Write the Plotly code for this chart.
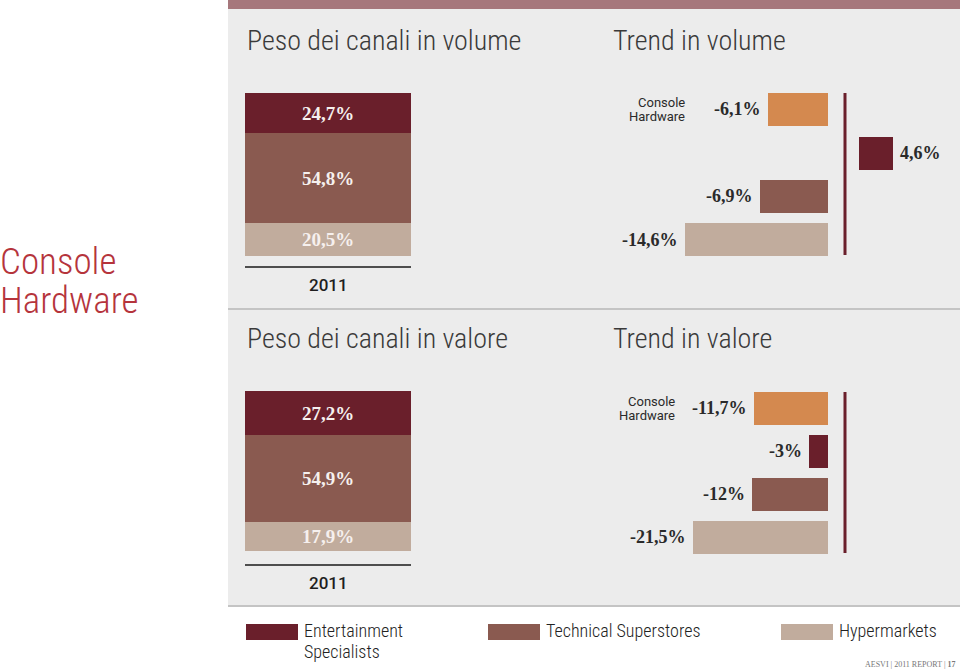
import plotly.graph_objects as go

# ---------------- data ----------------
channels = ["Entertainment Specialists", "Technical Superstores", "Hypermarkets"]
legend_lines = [["Entertainment", "Specialists"], ["Technical Superstores"], ["Hypermarkets"]]
share_volume = [24.7, 54.8, 20.5]
share_value = [27.2, 54.9, 17.9]
year_label = "2011"

trend_cats = ["Console Hardware", "Entertainment Specialists", "Technical Superstores", "Hypermarkets"]
trend_volume = [-6.1, 4.6, -6.9, -14.6]
trend_value = [-11.7, -3.0, -12.0, -21.5]

titles = {
    "share_volume": "Peso dei canali in volume",
    "trend_volume": "Trend in volume",
    "share_value": "Peso dei canali in valore",
    "trend_value": "Trend in valore",
}
section_label = ["Console", "Hardware"]
footer = "AESVI | 2011 REPORT | <b>17</b>"

# ---------------- styles ----------------
W, H = 960, 672
col_channel = {"Entertainment Specialists": "#6a1f2b",
               "Technical Superstores": "#8a5a50",
               "Hypermarkets": "#c1ac9d"}
col_total = "#d4894f"
trend_colors = [col_total] + [col_channel[c] for c in channels]
NARROW = "Roboto Condensed, Liberation Sans Narrow, Roboto, sans-serif"
SERIF = "Liberation Serif, DejaVu Serif, serif"
SANS = "Roboto, Liberation Sans, sans-serif"


def px(x):
    return x / W


def py(y):
    return 1 - y / H


def fmt(v):
    s = ("%.1f" % v).replace(".", ",")
    if s.endswith(",0"):
        s = s[:-2]
    return s + "%"


fig = go.Figure()
shapes = []
annotations = []

# background panel
shapes.append(dict(type="rect", xref="paper", yref="paper", x0=px(228), x1=1, y0=py(606), y1=1,
                   fillcolor="#ececec", line_width=0, layer="below"))
shapes.append(dict(type="rect", xref="paper", yref="paper", x0=px(228), x1=1, y0=py(9), y1=1,
                   fillcolor="#a6777c", line_width=0, layer="below"))
for yy in (309, 606):
    shapes.append(dict(type="line", xref="paper", yref="paper", x0=px(228), x1=1, y0=py(yy), y1=py(yy),
                       line=dict(color="#c4c4c4", width=2), layer="below"))

# big section label
for i, t in enumerate(section_label):
    annotations.append(dict(text=t, xref="paper", yref="paper", x=px(-2), y=py(262 + 38 * i),
                            xanchor="left", yanchor="middle", showarrow=False,
                            font=dict(family=NARROW, size=37, color="#b5343c", weight=300)))

sections = [
    dict(share=share_volume, trend=trend_volume, tshare=titles["share_volume"], ttrend=titles["trend_volume"],
         bar=(93, 256), dom=(87.8, 261.2), title_y=40, rule_y=267, year_y=285, axis=(93, 255),
         label_x=687),
    dict(share=share_value, trend=trend_value, tshare=titles["share_value"], ttrend=titles["trend_value"],
         bar=(391, 551), dom=(386.5, 558.5), title_y=338, rule_y=565, year_y=583, axis=(392, 553),
         label_x=677),
]

layout_axes = {}
neg_scale = [9.8, 6.3]   # px per percentage point
pos_scale = 7.4

for s_i, s in enumerate(sections):
    a_share = 1 + s_i
    a_neg = 3 + 2 * s_i
    a_pos = 4 + 2 * s_i

    for txt, tx in ((s["tshare"], 245), (s["ttrend"], 611)):
        annotations.append(dict(text=txt, xref="paper", yref="paper", x=px(tx), y=py(s["title_y"]),
                                xanchor="left", yanchor="middle", showarrow=False,
                                font=dict(family=NARROW, size=28, color="#3a3a3a", weight=300)))

    xs = "x" if a_share == 1 else "x%d" % a_share
    ys = "y" if a_share == 1 else "y%d" % a_share
    for ch, v in reversed(list(zip(channels, s["share"]))):
        fig.add_trace(go.Bar(x=[year_label], y=[v], width=1, marker=dict(color=col_channel[ch], line_width=0),
                             text=[fmt(v)], textposition="inside", insidetextanchor="middle",
                             textangle=0, constraintext="none",
                             textfont=dict(family=SERIF, size=19, color="#f6f0ee", weight="bold"),
                             xaxis=xs, yaxis=ys, showlegend=False, hoverinfo="skip"))
    kx = "xaxis" if a_share == 1 else "xaxis%d" % a_share
    ky = "yaxis" if a_share == 1 else "yaxis%d" % a_share
    layout_axes[kx] = dict(domain=[px(245), px(411)], range=[-0.5, 0.5], visible=False, type="category",
                           anchor=ys)
    layout_axes[ky] = dict(domain=[py(s["bar"][1]), py(s["bar"][0])], range=[0, 100], visible=False,
                           anchor=xs)

    shapes.append(dict(type="line", xref="paper", yref="paper", x0=px(245), x1=px(411),
                       y0=py(s["rule_y"]), y1=py(s["rule_y"]), line=dict(color="#1a1a1a", width=1.5)))
    annotations.append(dict(text=year_label, xref="paper", yref="paper", x=px(328), y=py(s["year_y"]),
                            xanchor="center", yanchor="middle", showarrow=False,
                            font=dict(family=SANS, size=17, color="#1e1e1e", weight=500)))

    neg = [v if v < 0 else None for v in s["trend"]]
    pos = [v if v > 0 else None for v in s["trend"]]
    xn, yn = "x%d" % a_neg, "y%d" % a_neg
    xp, yp = "x%d" % a_pos, "y%d" % a_pos
    fig.add_trace(go.Bar(y=trend_cats, x=neg, orientation="h", width=0.76,
                         marker=dict(color=trend_colors, line_width=0),
                         xaxis=xn, yaxis=yn, showlegend=False, hoverinfo="skip"))
    fig.add_trace(go.Bar(y=trend_cats, x=pos, orientation="h", width=0.76,
                         marker=dict(color=trend_colors, line_width=0),
                         xaxis=xp, yaxis=yp, showlegend=False, hoverinfo="skip"))
    neg_left, neg_right = 600, 828
    pos_left, pos_right = 859, 940
    ydom = [py(s["dom"][1]), py(s["dom"][0])]
    cat_axis = dict(type="category", categoryorder="array", categoryarray=trend_cats,
                    range=[3.5, -0.5], visible=False, domain=ydom)
    layout_axes["xaxis%d" % a_neg] = dict(domain=[px(neg_left), px(neg_right)],
                                          range=[-(neg_right - neg_left) / neg_scale[s_i], 0],
                                          visible=False, anchor=yn)
    layout_axes["yaxis%d" % a_neg] = dict(cat_axis, anchor=xn)
    layout_axes["xaxis%d" % a_pos] = dict(domain=[px(pos_left), px(pos_right)],
                                          range=[0, (pos_right - pos_left) / pos_scale],
                                          visible=False, anchor=yp)
    layout_axes["yaxis%d" % a_pos] = dict(cat_axis, anchor=xp)

    for cat, v in zip(trend_cats, s["trend"]):
        if v < 0:
            annotations.append(dict(text="<b>%s</b>" % fmt(v), x=v, y=cat, xref=xn, yref=yn,
                                    xanchor="right", yanchor="middle", xshift=-5, showarrow=False,
                                    font=dict(family=SERIF, size=18, color="#2a2a2a")))
        else:
            annotations.append(dict(text="<b>%s</b>" % fmt(v), x=v, y=cat, xref=xp, yref=yp,
                                    xanchor="left", yanchor="middle", xshift=5, showarrow=False,
                                    font=dict(family=SERIF, size=18, color="#2a2a2a")))

    for j, t in enumerate(section_label):
        annotations.append(dict(text=t, x=px(s["label_x"]), y=trend_cats[0], xref="paper", yref=yn,
                                xanchor="right", yanchor="middle", yshift=7 - 14 * j, showarrow=False,
                                font=dict(family=SANS, size=13, color="#2a2a2a")))

    shapes.append(dict(type="line", xref="paper", yref="paper", x0=px(845), x1=px(845),
                       y0=py(s["axis"][1]), y1=py(s["axis"][0]), line=dict(color="#6a1f2b", width=3)))

# legend
legend_x = [246, 488, 781]
for ch, lines, lx in zip(channels, legend_lines, legend_x):
    shapes.append(dict(type="rect", xref="paper", yref="paper", x0=px(lx), x1=px(lx + 52),
                       y0=py(640), y1=py(624), fillcolor=col_channel[ch], line_width=0))
    for j, t in enumerate(lines):
        annotations.append(dict(text=t, xref="paper", yref="paper", x=px(lx + 56), y=py(630 + 21 * j),
                                xanchor="left", yanchor="middle", showarrow=False,
                                font=dict(family=NARROW, size=18, color="#222222", weight=300)))

annotations.append(dict(text=footer, xref="paper", yref="paper", x=px(958), y=py(664),
                        xanchor="right", yanchor="middle", showarrow=False,
                        font=dict(family=SERIF, size=8, color="#777777")))

fig.update_layout(width=W, height=H, margin=dict(l=0, r=0, t=0, b=0), autosize=False,
                  paper_bgcolor="#ffffff", plot_bgcolor="rgba(0,0,0,0)",
                  barmode="stack", bargap=0, shapes=shapes, annotations=annotations,
                  showlegend=False, **layout_axes)

fig.write_html("out.html")
